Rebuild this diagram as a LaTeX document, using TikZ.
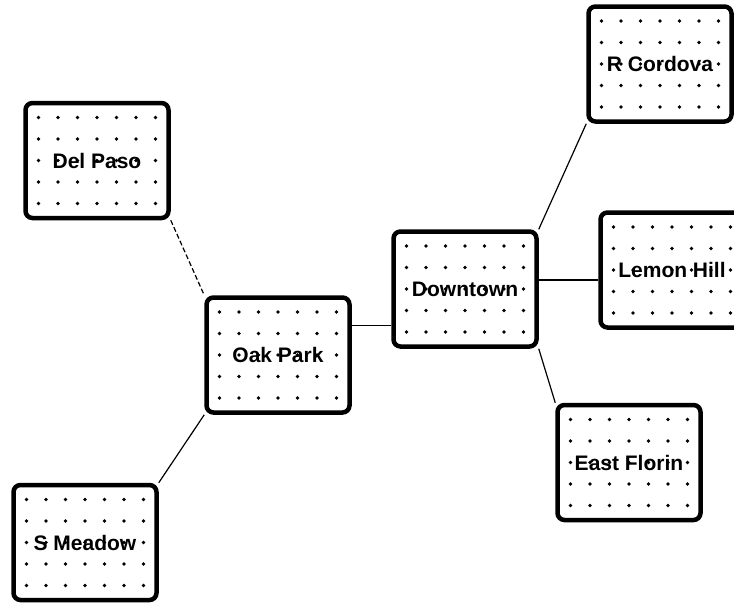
\documentclass[tikz,border=0pt]{standalone}
\usepackage{fontspec}
\setmainfont{Liberation Sans}
\usetikzlibrary{calc}
\usetikzlibrary{backgrounds}

\begin{document}
\begin{tikzpicture}[x=1pt, y=-1pt,
  district/.style={draw, line width=4.5pt, rounded corners=7pt,
    minimum width=143pt, minimum height=115pt, inner sep=0pt,
    font=\fontsize{21}{21}\selectfont\bfseries},
  link/.style={line width=1.2pt}]
  \useasboundingbox (0,0) rectangle (734,606);
  \clip (0,0) rectangle (734,606);

  \node[district] (DelPaso)    at (97,160.5)  {Del Paso};
  \node[district] (OakPark)    at (278,355)   {Oak Park};
  \node[district] (SMeadow)    at (85,542.5)  {S Meadow};
  \node[district] (Downtown)   at (465,289)   {Downtown};
  \node[district] (RCordova)   at (660,64)    {R Cordova};
  \node[district] (LemonHill)  at (672,270)   {Lemon Hill};
  \node[district] (EastFlorin) at (629,462.5) {East Florin};

  % dotted fill of every box
  \begin{scope}[on background layer]
    \foreach \n in {DelPaso,OakPark,SMeadow,Downtown,RCordova,LemonHill,EastFlorin}{%
      \foreach \i in {-3,...,3}{%
        \foreach \j in {-2,...,2}{%
          \fill ($(\n)+(19.5*\i,21.5*\j)$) circle (1.8pt);
        }
      }
    }
  \end{scope}

  \draw [link, dash pattern=on 5pt off 2.5pt] (DelPaso.south east) -- (OakPark.north west);
  \draw [link] (OakPark.south west) -- (SMeadow.north east);
  \draw [link] (OakPark.22) -- (OakPark.22 -| Downtown.west);
  \draw [link] (Downtown.north east) -- (RCordova.south west);
  \draw [link] (Downtown.7) -- (Downtown.7 -| LemonHill.west);
  \draw [link] (Downtown.south east) -- (EastFlorin.north west);
\end{tikzpicture}
\end{document}
